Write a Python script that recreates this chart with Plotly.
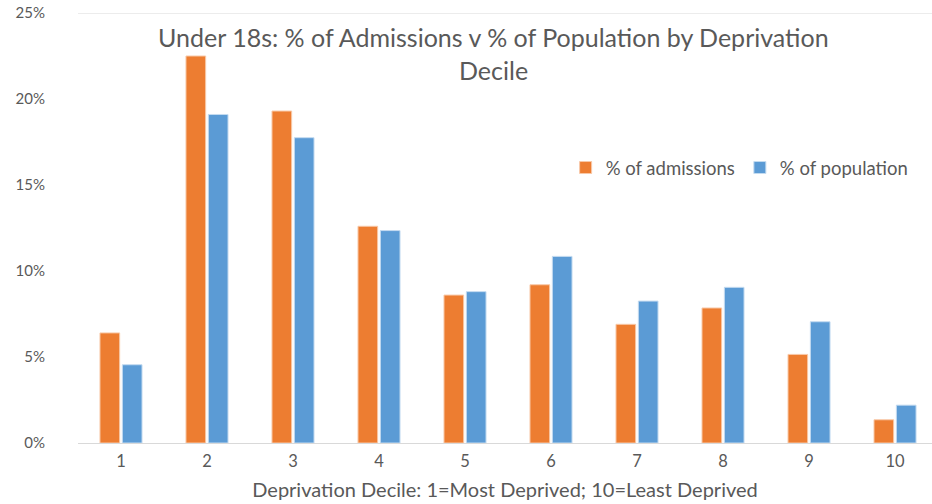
import plotly.graph_objects as go

deciles = [1, 2, 3, 4, 5, 6, 7, 8, 9, 10]
admissions = [6.4, 22.5, 19.3, 12.6, 8.6, 9.2, 6.9, 7.85, 5.15, 1.35]
population = [4.55, 19.1, 17.75, 12.35, 8.8, 10.85, 8.25, 9.05, 7.05, 2.2]
y_ticks = [0, 5, 10, 15, 20, 25]
y_labels = ["0%", "5%", "10%", "15%", "20%", "25%"]
title_lines = ["Under 18s: % of Admissions v % of Population by Deprivation", "Decile"]

FONT = "Lato, Open Sans, sans-serif"
GRAY = "#595959"

fig = go.Figure()
fig.add_trace(go.Bar(x=deciles, y=admissions, name="% of admissions",
                     marker=dict(color="#ED7D31", line=dict(color="#F8C9A8", width=1))))
fig.add_trace(go.Bar(x=deciles, y=population, name="% of population",
                     marker=dict(color="#5B9BD5", line=dict(color="#C4DBF0", width=1))))

# plot area: top 13px, bottom 443px (height 430)
def py(pix):
    return (443 - pix) / 430.0

fig.update_layout(
    width=932, height=504,
    margin=dict(l=78, r=0, t=13, b=61),
    paper_bgcolor="white", plot_bgcolor="white",
    barmode="group", bargap=0.48, bargroupgap=0.12,
    font=dict(family=FONT, color=GRAY),
    showlegend=True,
    legend=dict(orientation="h", x=0.571, y=py(168), xanchor="left", yanchor="middle",
                font=dict(size=18.5, color=GRAY), itemwidth=30, traceorder="normal",
                bgcolor="rgba(0,0,0,0)"),
    xaxis=dict(range=[0.5, 10.43], tickmode="array", tickvals=deciles,
               ticktext=[str(d) for d in deciles], showgrid=False,
               showline=True, linecolor="#D9D9D9", linewidth=1, ticks="",
               tickfont=dict(size=16.5, color=GRAY), ticklabelstandoff=3,
               title=dict(text="Deprivation Decile: 1=Most Deprived; 10=Least Deprived",
                          font=dict(size=20, color=GRAY), standoff=13),
               zeroline=False),
    yaxis=dict(range=[0, 25], tickmode="array", tickvals=y_ticks, ticktext=y_labels,
               showgrid=False, showline=False, zeroline=False, ticks="",
               tickfont=dict(size=15, color=GRAY), ticklabelstandoff=32),
    shapes=[dict(type="line", xref="paper", yref="y", x0=0, x1=1, y0=25, y1=25,
                 line=dict(color="#D9D9D9", width=1))],
    annotations=[
        dict(text=title_lines[0], xref="paper", yref="paper", x=0.486, y=py(37),
             xanchor="center", yanchor="middle", showarrow=False,
             font=dict(size=25, color=GRAY, family=FONT)),
        dict(text=title_lines[1], xref="paper", yref="paper", x=0.486, y=py(70),
             xanchor="center", yanchor="middle", showarrow=False,
             font=dict(size=25, color=GRAY, family=FONT)),
    ],
)

fig.write_html("out.html")
